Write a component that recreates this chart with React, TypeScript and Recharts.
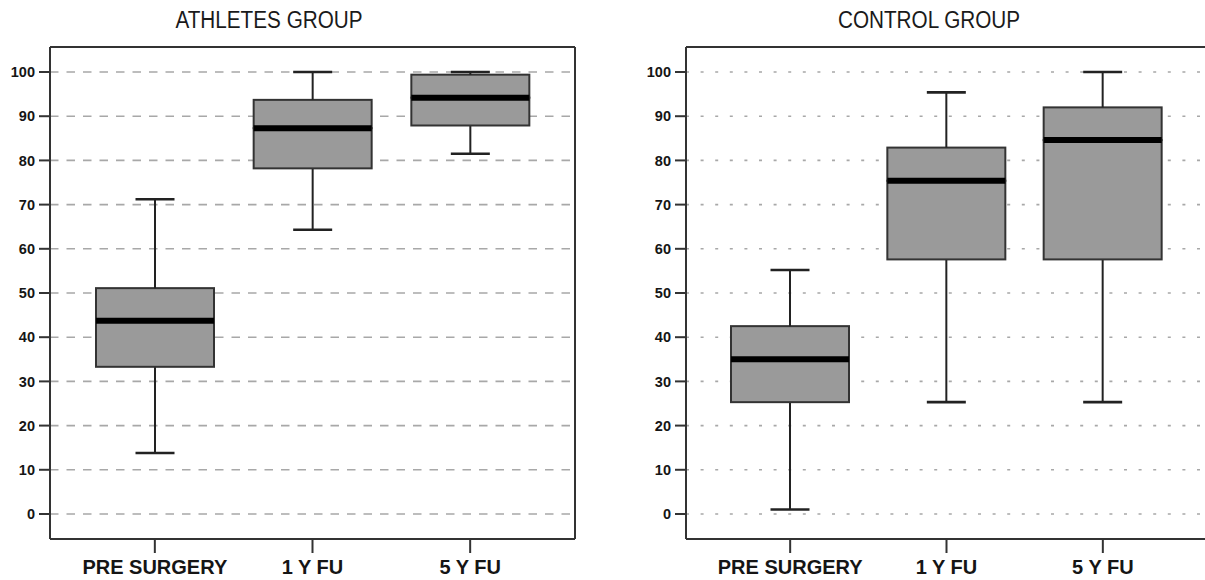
import React from 'react';
import { ComposedChart, Bar, XAxis, YAxis, CartesianGrid } from 'recharts';

const categories = ['PRE SURGERY', '1 Y FU', '5 Y FU'];

const athletesMin = [13.8, 64.3, 81.5];
const athletesQ1 = [33.3, 78.2, 87.9];
const athletesMedian = [43.7, 87.3, 94.2];
const athletesQ3 = [51.1, 93.7, 99.4];
const athletesMax = [71.2, 100, 100];

const controlMin = [1.0, 25.3, 25.3];
const controlQ1 = [25.3, 57.6, 57.6];
const controlMedian = [35.0, 75.4, 84.6];
const controlQ3 = [42.5, 82.9, 92.0];
const controlMax = [55.2, 95.4, 100];

const yTicks = [0, 10, 20, 30, 40, 50, 60, 70, 80, 90, 100];
const yDomain = [-5.66, 105.66];

const BOX_FILL = '#9a9a9a';
const DARK = '#222222';
const FRAME = '#333333';

function buildRows(mins: number[], q1: number[], med: number[], q3: number[], max: number[]) {
  return categories.map((name, i) => ({
    name,
    base: mins[i],
    lowWhisker: q1[i] - mins[i],
    lowBox: med[i] - q1[i],
    highBox: q3[i] - med[i],
    highWhisker: max[i] - q3[i],
  }));
}

const CAP = 39;

const LowWhiskerShape = (p: any) => {
  const { x, y, width, height } = p;
  const cx = x + width / 2;
  return (
    <g>
      <line x1={cx} x2={cx} y1={y} y2={y + height} stroke={DARK} strokeWidth={2} />
      <line x1={cx - CAP / 2} x2={cx + CAP / 2} y1={y + height} y2={y + height} stroke={DARK} strokeWidth={2.6} />
    </g>
  );
};

const HighWhiskerShape = (p: any) => {
  const { x, y, width, height } = p;
  const cx = x + width / 2;
  return (
    <g>
      <line x1={cx} x2={cx} y1={y} y2={y + height} stroke={DARK} strokeWidth={2} />
      <line x1={cx - CAP / 2} x2={cx + CAP / 2} y1={y} y2={y} stroke={DARK} strokeWidth={2.6} />
    </g>
  );
};

const LowBoxShape = (p: any) => {
  const { x, y, width, height } = p;
  return <rect x={x} y={y} width={width} height={height} fill={BOX_FILL} stroke={FRAME} strokeWidth={2} />;
};

const HighBoxShape = (p: any) => {
  const { x, y, width, height } = p;
  return (
    <g>
      <rect x={x} y={y} width={width} height={height} fill={BOX_FILL} stroke={FRAME} strokeWidth={2} />
      <line x1={x} x2={x + width} y1={y + height} y2={y + height} stroke="#000" strokeWidth={6} />
    </g>
  );
};

const tickFont = { fontFamily: '"Liberation Sans", Arial, sans-serif', fontWeight: 'bold' as const, fill: '#151515' };

function BoxChart({ rows, plotWidth, dash }: { rows: any[]; plotWidth: number; dash: string }) {
  const width = 600;
  const rightMargin = width - 50 - plotWidth - 1;
  const pad = { left: 26, right: 26 };
  return (
    <ComposedChart width={width} height={580} data={rows} margin={{ top: 46, right: rightMargin, left: 0, bottom: 0 }}>
      <CartesianGrid vertical={false} stroke="#a8a8a8" strokeWidth={1.6} strokeDasharray={dash} horizontalValues={yTicks} />
      <XAxis
        dataKey="name"
        type="category"
        padding={pad}
        height={41}
        tickSize={14}
        tickMargin={7}
        axisLine={{ stroke: FRAME, strokeWidth: 2 }}
        tickLine={{ stroke: FRAME, strokeWidth: 2 }}
        tick={{ ...tickFont, fontSize: 20 }}
        interval={0}
      />
      <XAxis
        xAxisId="frame"
        dataKey="name"
        type="category"
        orientation="top"
        padding={pad}
        height={1}
        tick={false}
        tickLine={false}
        axisLine={{ stroke: FRAME, strokeWidth: 2 }}
      />
      <YAxis
        type="number"
        domain={yDomain}
        ticks={yTicks}
        width={50}
        tickSize={11}
        tickMargin={4}
        allowDataOverflow
        axisLine={{ stroke: FRAME, strokeWidth: 2 }}
        tickLine={{ stroke: FRAME, strokeWidth: 2 }}
        tick={{ ...tickFont, fontSize: 14.5 }}
      />
      <YAxis
        yAxisId="frame"
        type="number"
        orientation="right"
        domain={yDomain}
        width={1}
        tick={false}
        tickLine={false}
        allowDataOverflow
        axisLine={{ stroke: FRAME, strokeWidth: 2 }}
      />
      <Bar dataKey="base" stackId="b" barSize={118} fill="none" isAnimationActive={false} />
      <Bar dataKey="lowWhisker" stackId="b" barSize={118} shape={LowWhiskerShape} isAnimationActive={false} />
      <Bar dataKey="lowBox" stackId="b" barSize={118} shape={LowBoxShape} isAnimationActive={false} />
      <Bar dataKey="highBox" stackId="b" barSize={118} shape={HighBoxShape} isAnimationActive={false} />
      <Bar dataKey="highWhisker" stackId="b" barSize={118} shape={HighWhiskerShape} isAnimationActive={false} />
    </ComposedChart>
  );
}

const titleStyle: React.CSSProperties = {
  position: 'absolute',
  top: 9,
  width: 300,
  textAlign: 'center',
  fontFamily: '"Liberation Sans", Arial, sans-serif',
  fontSize: 23,
  lineHeight: '23px',
  color: '#1a1a1a',
  transform: 'scaleX(0.9)',
  transformOrigin: 'center',
  whiteSpace: 'nowrap',
};

export default function App() {
  const athletesRows = buildRows(athletesMin, athletesQ1, athletesMedian, athletesQ3, athletesMax);
  const controlRows = buildRows(controlMin, controlQ1, controlMedian, controlQ3, controlMax);
  return (
    <div style={{ position: 'fixed', left: 0, top: 0, width: 1205, height: 580, overflow: 'hidden', background: '#fff' }}>
      <div style={{ ...titleStyle, left: 269 - 150 }}>ATHLETES GROUP</div>
      <div style={{ ...titleStyle, left: 929 - 150 }}>CONTROL GROUP</div>
      <div style={{ position: 'absolute', left: 0, top: 0 }}>
        <BoxChart rows={athletesRows} plotWidth={525} dash="8.5 8" />
      </div>
      <div style={{ position: 'absolute', left: 636, top: 0 }}>
        <BoxChart rows={controlRows} plotWidth={521} dash="3 11.6" />
      </div>
    </div>
  );
}
